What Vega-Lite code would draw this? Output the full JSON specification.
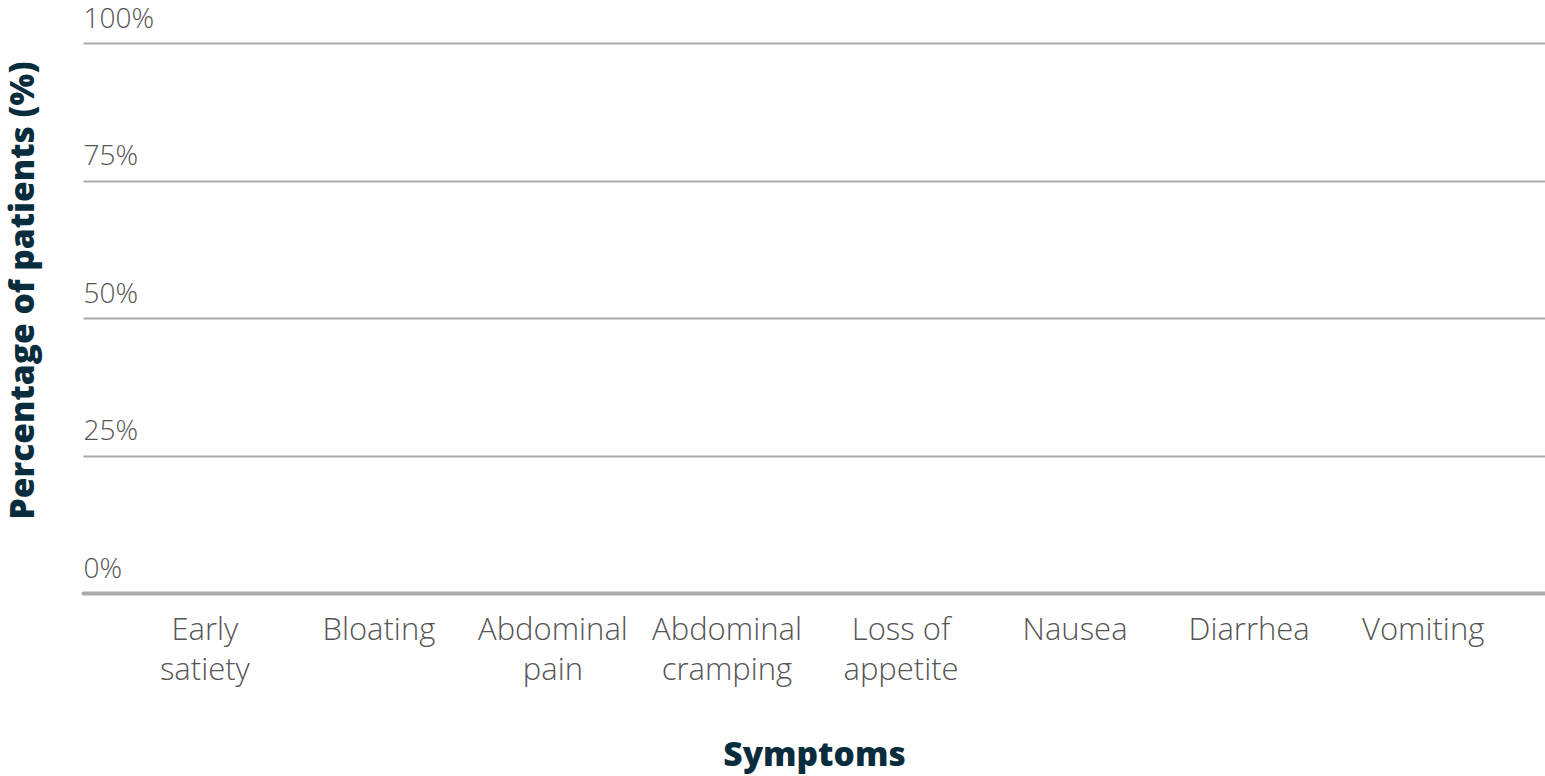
{
  "$schema": "https://vega.github.io/schema/vega-lite/v6.json",
  "width": 1462,
  "height": 550,
  "autosize": {"type": "none"},
  "padding": {"left": 83, "top": 43, "right": 0, "bottom": 183},
  "background": "white",
  "data": {"values": [
    {"symptom": "Early satiety", "pct": 0},
    {"symptom": "Bloating", "pct": 0},
    {"symptom": "Abdominal pain", "pct": 0},
    {"symptom": "Abdominal cramping", "pct": 0},
    {"symptom": "Loss of appetite", "pct": 0},
    {"symptom": "Nausea", "pct": 0},
    {"symptom": "Diarrhea", "pct": 0},
    {"symptom": "Vomiting", "pct": 0}
  ]},
  "mark": {"type": "bar", "color": "#0a2d3e"},
  "encoding": {
    "x": {
      "field": "symptom", "type": "nominal", "sort": null,
      "scale": {"paddingInner": 0, "paddingOuter": 0.2},
      "axis": {
        "title": "Symptoms",
        "titleFont": "Open Sans", "titleFontSize": 33.5, "titleFontWeight": 800, "titleColor": "#0a2d3e",
        "titleY": 172, "titleBaseline": "alphabetic",
        "labelAngle": 0,
        "labelExpr": "datum.label == 'Loss of appetite' ? ['Loss of', 'appetite'] : split(datum.label, ' ')",
        "labelFont": "Open Sans", "labelFontSize": 31, "labelFontWeight": 300, "labelColor": "#555555",
        "labelLineHeight": 40, "labelBaseline": "top", "labelPadding": 22,
        "ticks": false, "domain": true, "domainColor": "#aaaaaa", "domainWidth": 4, "domainCap": "round",
        "grid": false
      }
    },
    "y": {
      "field": "pct", "type": "quantitative",
      "scale": {"domain": [0, 100]},
      "axis": {
        "title": "Percentage of patients (%)",
        "titleFont": "Open Sans", "titleFontSize": 33.5, "titleFontWeight": 800, "titleColor": "#0a2d3e",
        "titleAngle": -90, "titleX": -60, "titleY": 247, "titleAlign": "center", "titleBaseline": "middle",
        "values": [0, 25, 50, 75, 100],
        "labelExpr": "datum.value + '%'",
        "labelFont": "Open Sans", "labelFontSize": 28, "labelFontWeight": 300, "labelColor": "#555555",
        "labelAlign": "left", "labelBaseline": "alphabetic", "labelPadding": 0, "labelOffset": -16,
        "ticks": false, "domain": false,
        "grid": true, "gridColor": "#aaaaaa", "gridWidth": 2
      }
    }
  },
  "config": {"view": {"stroke": null}}
}
